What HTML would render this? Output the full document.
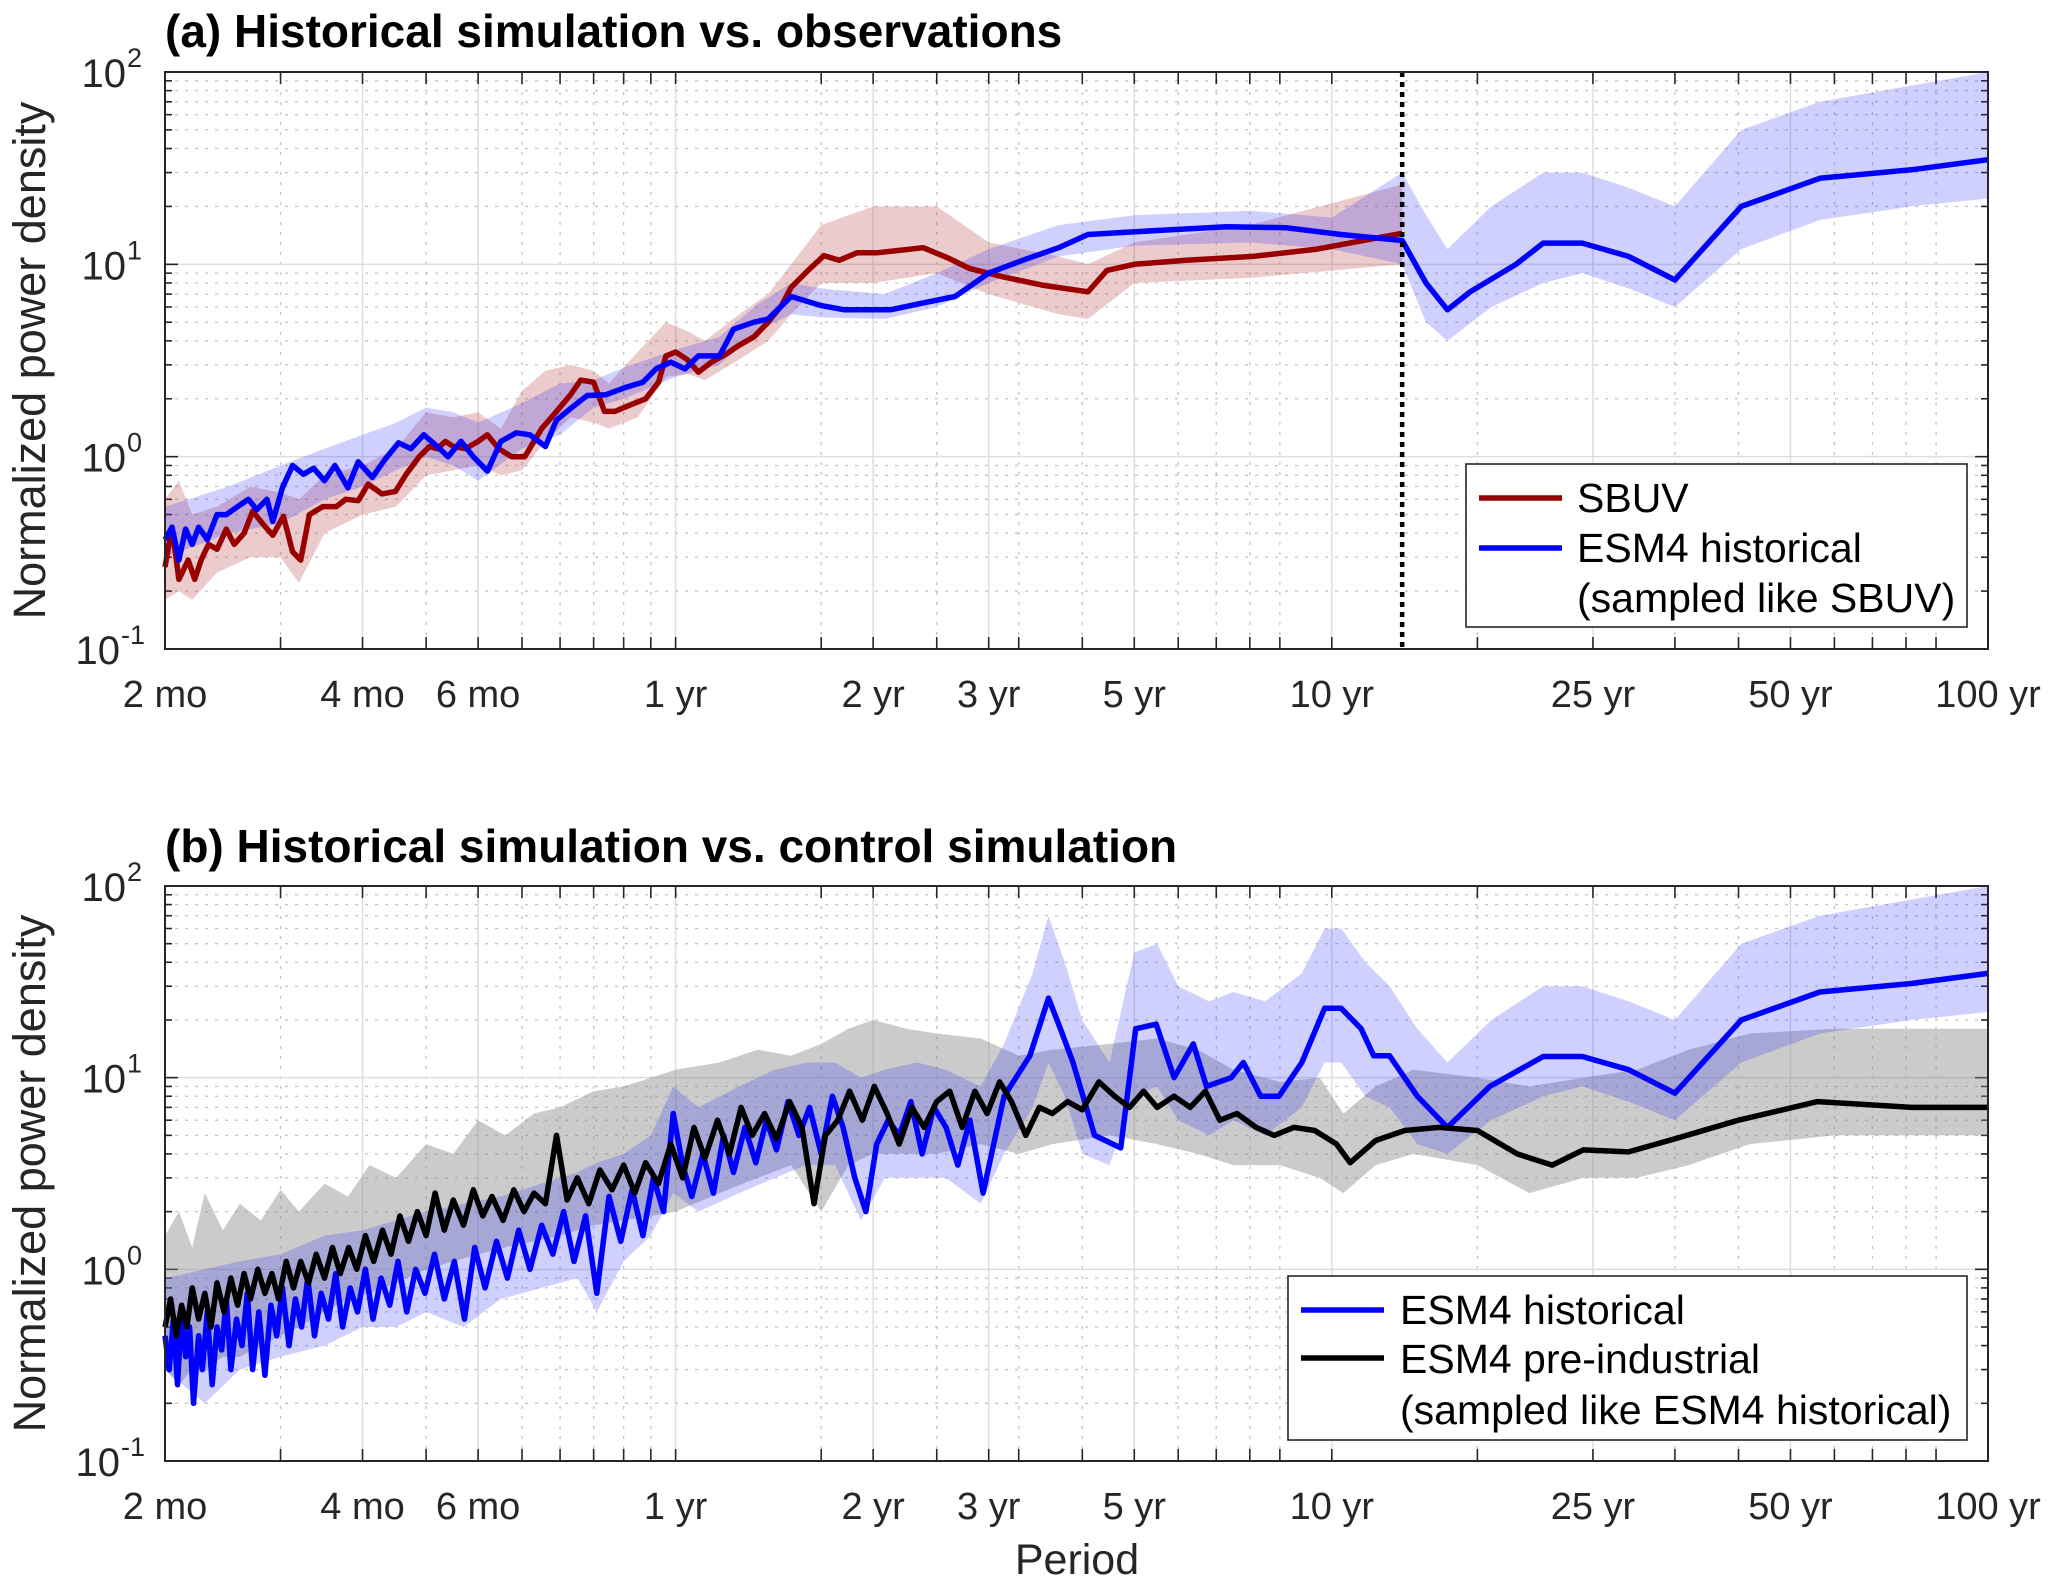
<!DOCTYPE html>
<html><head><meta charset="utf-8">
<style>
html,body{margin:0;padding:0;background:#fff;}
svg{display:block;font-family:"Liberation Sans",Arial,sans-serif;}
</style></head>
<body>
<svg id="chart" width="2067" height="1592" viewBox="0 0 2067 1592" xmlns="http://www.w3.org/2000/svg"></svg>
<script>
// ---------- Panel (a) data (periods in months) ----------
const sbuvMonths = [2,2.05,2.1,2.17,2.22,2.27,2.33,2.4,2.48,2.55,2.64,2.72,2.83,2.92,3.03,3.13,3.22,3.32,3.48,3.65,3.77,3.94,4.08,4.28,4.49,4.66,4.88,5.06,5.2,5.35,5.5,5.74,6.0,6.2,6.45,6.75,7.07,7.5,7.9,8.3,8.6,9.0,9.35,9.7,10.2,10.8,11.3,11.6,12.0,12.5,13.0,13.6,14.3,15.0,15.8,16.6,17.4,18,19.1,20.2,21.3,22.7,24.4,26.2,28.6,31.2,33.7,37.9,43.4,51,54.5,60,72,91,114,153.6];
const sbuvValues = [0.267,0.43,0.23,0.29,0.23,0.29,0.35,0.33,0.42,0.35,0.4,0.52,0.44,0.39,0.49,0.32,0.29,0.5,0.55,0.55,0.6,0.59,0.72,0.64,0.66,0.81,1.0,1.13,1.1,1.2,1.13,1.1,1.2,1.3,1.1,1.0,1.0,1.4,1.72,2.1,2.5,2.44,1.72,1.72,1.85,2.0,2.44,3.34,3.5,3.2,2.75,3.1,3.4,3.8,4.2,5.0,6.1,7.6,9.3,11.1,10.5,11.5,11.5,11.8,12.2,10.8,9.5,8.6,7.8,7.2,9.3,10.0,10.5,11.0,12.0,14.5];
const sbuvBandMonths = [2,2.1,2.2,2.4,2.7,3.0,3.2,3.5,4,4.5,5,5.5,6,6.5,7,7.6,8.3,9,9.5,10.5,11.6,12.5,13.3,15,16.6,18,20,24,30,36,46,51,60,90,153.6];
const sbuvBandLo = [0.18,0.2,0.18,0.25,0.3,0.3,0.22,0.4,0.5,0.55,0.8,0.85,0.9,0.8,0.85,1.2,1.6,1.5,1.4,1.6,2.6,2.7,2.5,3.2,4,5.5,8,8,9,7,5.5,5.2,8,8.5,10];
const sbuvBandHi = [0.6,0.75,0.5,0.55,0.7,0.65,0.6,0.8,0.9,1.1,1.7,1.6,1.7,1.4,2.2,2.8,3.0,2.8,2.4,3.5,5.0,4.5,4.0,5.5,7,10,16,20,20,13,11,10,13,16,26];

const histAMonths = [2,2.05,2.1,2.15,2.2,2.25,2.32,2.4,2.48,2.58,2.68,2.76,2.86,2.92,3.02,3.13,3.25,3.37,3.5,3.63,3.8,3.94,4.14,4.33,4.54,4.74,4.96,5.2,5.4,5.65,5.9,6.2,6.5,6.86,7.2,7.6,7.9,8.3,8.8,9.4,10.1,10.7,11.2,11.8,12.4,13.0,14,14.7,15.8,16.6,18,20,21.7,25.5,28.6,32,36,41.2,46,51,65,83,102,124,153.6,167,180,195,229,252,289,340,400,505,665,917,1200];
const histAValues = [0.37,0.43,0.29,0.42,0.35,0.43,0.37,0.5,0.5,0.55,0.6,0.53,0.6,0.46,0.69,0.9,0.81,0.87,0.75,0.9,0.69,0.94,0.78,0.97,1.18,1.1,1.3,1.13,1.0,1.2,1.0,0.84,1.2,1.33,1.3,1.13,1.55,1.78,2.08,2.1,2.3,2.44,2.86,3.1,2.86,3.34,3.34,4.6,5.0,5.2,6.8,6.1,5.8,5.8,6.3,6.8,9.0,10.7,12.2,14.3,15,15.7,15.5,14.3,13.3,8.0,5.8,7.2,10,12.9,12.9,11.0,8.3,20,28,31,35];
const histABandMonths = [2,2.5,3,3.5,4,4.5,5,5.5,6,7,8,9,10,12,14,16,18,20,25,30,36,46,60,90,120,153.6,167,180,210,252,289,340,400,505,665,917,1200];
const histABandLo = [0.3,0.4,0.45,0.6,0.7,0.85,1.0,0.9,0.75,1.1,1.3,1.8,2.0,2.6,3.0,4.5,5.5,5.3,5.2,6,8,11,12.5,13,12,10,5,4,6,8,9,7.5,6,12,17,20,22];
const histABandHi = [0.55,0.7,0.9,1.1,1.3,1.5,1.8,1.7,1.5,1.9,2.4,2.5,2.9,3.6,4.2,6.2,8,7.5,7.0,9,12,16,18,19,17.5,30,18,12,20,30,30,25,20,50,70,85,100];
const sbuvRecordMonths = 153.6;

// ---------- Panel (b) data ----------
const histBMonths = [2,2.03,2.06,2.09,2.12,2.15,2.18,2.21,2.25,2.28,2.32,2.36,2.4,2.44,2.48,2.52,2.57,2.62,2.67,2.72,2.78,2.84,2.9,2.96,3.02,3.09,3.16,3.23,3.3,3.38,3.46,3.55,3.64,3.73,3.83,3.93,4.04,4.15,4.27,4.4,4.53,4.67,4.82,4.98,5.15,5.33,5.52,5.72,5.93,6.15,6.4,6.65,6.92,7.2,7.5,7.8,8.1,8.4,8.75,9.1,9.5,9.9,10.3,10.7,11.1,11.5,11.9,12.3,12.7,13.2,13.7,14.2,14.7,15.3,15.9,16.5,17.1,17.8,18.5,19.2,20.0,20.8,21.6,22.5,23.4,24.3,25.3,26.3,27.4,28.5,29.7,31,32.3,33.7,35.3,38,41.6,44.4,46.3,48.4,52.2,57.2,60.3,64.8,69,73.8,77.3,84.3,88,93.5,99.7,108,117,124,133,139,147,162,180,209,252,289,340,400,505,665,917,1200];
const histBValues = [0.45,0.3,0.55,0.25,0.6,0.35,0.5,0.2,0.45,0.3,0.6,0.25,0.5,0.38,0.7,0.3,0.55,0.4,0.75,0.3,0.6,0.28,0.65,0.45,0.8,0.4,0.7,0.5,0.9,0.45,0.75,0.55,0.95,0.5,0.8,0.6,1.0,0.55,0.9,0.65,1.1,0.6,1.0,0.75,1.2,0.7,1.1,0.55,1.3,0.8,1.4,0.9,1.6,1.0,1.7,1.2,2.0,1.1,1.9,0.75,2.4,1.4,2.6,1.5,3.0,2.0,6.5,3.5,2.4,4.0,2.5,5.0,3.2,5.5,3.6,6.0,4.2,7.5,5.0,7.0,4.0,8.0,5.5,3.0,2.0,4.5,6.0,5.0,7.5,4.0,7.0,5.5,3.5,6.0,2.5,8,13,26,18,12,5,4.3,18,19,10,15,9,10,12,8,8,12,23,23,18,13,13,8,5.5,9,12.9,12.9,11,8.3,20,28,31,35];
const piMonths = [2,2.04,2.08,2.12,2.16,2.2,2.25,2.3,2.35,2.4,2.46,2.52,2.58,2.64,2.7,2.77,2.84,2.91,2.98,3.06,3.14,3.22,3.31,3.4,3.5,3.6,3.7,3.81,3.92,4.04,4.16,4.29,4.42,4.56,4.7,4.85,5.0,5.16,5.33,5.5,5.7,5.9,6.1,6.3,6.55,6.8,7.05,7.3,7.6,7.9,8.2,8.5,8.85,9.2,9.6,10.0,10.4,10.8,11.3,11.8,12.3,12.8,13.3,13.9,14.5,15.1,15.7,16.4,17.1,17.9,18.7,19.5,20.3,21.2,22.1,23.1,24.1,25.2,26.3,27.5,28.7,30,31.4,32.8,34.3,35.8,37.4,39,41,43,45,47.5,50,53,56,59,62,65,69,73,77,81,86,92,98,105,113,122,128,140,155,175,200,230,260,290,340,400,500,660,920,1200];
const piValues = [0.5,0.7,0.45,0.65,0.5,0.8,0.55,0.75,0.5,0.85,0.6,0.9,0.65,0.95,0.7,1.0,0.75,0.95,0.7,1.1,0.8,1.1,0.85,1.2,0.9,1.3,0.95,1.3,1.0,1.5,1.1,1.6,1.2,1.9,1.4,2.0,1.5,2.5,1.6,2.3,1.7,2.6,1.9,2.4,1.8,2.6,2.0,2.5,2.2,5.0,2.3,3.0,2.2,3.3,2.6,3.5,2.5,3.6,2.8,4.5,3.0,5.5,3.8,6.0,4.0,7.0,5.0,6.5,4.8,7.5,5.5,2.2,5.0,6.0,8.5,6.0,9.0,6.5,4.5,7.0,5.5,7.5,8.5,5.5,8.5,6.5,9.5,7.5,5.0,7.0,6.5,7.5,6.8,9.5,8.0,7.0,8.5,7.0,8.0,7.0,8.5,6.0,6.5,5.5,5.0,5.5,5.3,4.5,3.6,4.7,5.3,5.5,5.3,4.0,3.5,4.2,4.1,4.8,6.0,7.5,7.0,7.0];
const piBandMonths = [2,2.1,2.2,2.3,2.45,2.6,2.8,3.0,3.2,3.5,3.8,4.1,4.5,5.0,5.5,6.0,6.6,7.3,8.0,9.0,10,11,12,14,16,18,20,22,24,27,30,35,40,45,55,65,75,85,100,115,125,140,160,200,240,290,350,420,520,700,1200];
const piBandLo = [0.3,0.25,0.3,0.3,0.35,0.35,0.4,0.45,0.5,0.6,0.7,0.75,0.85,1.0,1.1,1.2,1.3,1.4,1.5,1.7,1.8,1.9,2.0,2.5,3.0,3.5,2.0,3.5,4.0,4.0,4.0,4.5,4.0,4.5,5.0,4.5,4.0,3.5,3.5,3.0,2.5,3.5,4.0,3.5,2.5,3.0,3.0,3.5,4.5,5.0,5.0];
const piBandHi = [1.5,2.0,1.3,2.5,1.6,2.2,1.8,2.6,2.0,2.8,2.4,3.5,3.0,4.5,4.0,6.0,5.0,6.5,7.0,8.5,9.0,10,11,12,14,13,15,18,20,18,17,16,13,14,15,16,14,11,9.5,10,6.5,9,11,10,9,10,11,14,17,18,18];
const histBBandMonths = [2,2.3,2.6,3,3.5,4,4.5,5,5.7,6.5,7.5,8.5,9.1,10,11,11.9,13,15,17,19,21,23,25,28,31,35,38,42,44.4,47,50,55,60,65,70,78,85,95,108,117,124,135,147,162,180,210,252,289,340,400,505,665,917,1200];
const histBBandLo = [0.3,0.2,0.3,0.35,0.4,0.5,0.5,0.6,0.5,0.7,0.8,0.9,0.6,1.1,1.5,2.5,2.0,2.5,3.0,3.5,3.5,1.8,3.0,3.0,3.0,2.2,4,7,12,8,4,3.5,8,9,6,5,6,5,7,12,12,8,7,4.5,4,6,8,9,7.5,6,12,17,20,22];
const histBBandHi = [0.9,1.0,1.1,1.2,1.5,1.6,1.8,2.0,2.2,2.4,2.8,3.2,3.6,4.0,5.0,9,7,9,11,12,12,10,11,12,11,9,15,35,70,40,20,12,45,50,30,25,28,25,35,60,60,40,30,18,12,20,30,30,25,20,50,70,85,100];

// ---------- axis ticks / labels ----------
const xTickMonths = [2,3,4,5,6,7,8,9,10,11,12,20,24,30,36,40,50,60,70,80,90,100,120,200,300,400,500,600,700,800,900,1000,1200];
const xLabelMonths = [2,4,6,12,24,36,60,120,300,600,1200];
const xLabelText = ["2 mo","4 mo","6 mo","1 yr","2 yr","3 yr","5 yr","10 yr","25 yr","50 yr","100 yr"];
const yDecades = [-1,0,1,2];

const NS = "http://www.w3.org/2000/svg";
const svg = document.getElementById("chart");
const L = 165, R = 1988;
const LW = 5.5;
const panels = [{top:72, bot:649}, {top:886, bot:1461}];
function xs(m){ return L + (Math.log10(m) - Math.log10(2)) / Math.log10(600) * (R - L); }
function ysF(p){ return v => p.bot - (Math.log10(v) + 1) / 3 * (p.bot - p.top); }
function mk(tag, attrs, parent){
  const e = document.createElementNS(NS, tag);
  for (const k in attrs) e.setAttribute(k, attrs[k]);
  (parent || svg).appendChild(e);
  return e;
}
function linePath(ms, vs, ys){
  const n = Math.min(ms.length, vs.length);
  let d = "";
  for (let i = 0; i < n; i++) d += (i ? "L" : "M") + xs(ms[i]).toFixed(1) + "," + ys(vs[i]).toFixed(1);
  return d;
}
function bandPath(ms, lo, hi, ys){
  const n = Math.min(ms.length, lo.length, hi.length);
  let d = "";
  for (let i = 0; i < n; i++) d += (i ? "L" : "M") + xs(ms[i]).toFixed(1) + "," + ys(hi[i]).toFixed(1);
  for (let i = n - 1; i >= 0; i--) d += "L" + xs(ms[i]).toFixed(1) + "," + ys(lo[i]).toFixed(1);
  return d + "Z";
}

function drawAxes(p, idx){
  const ys = ysF(p);
  const g = mk("g", {});
  
  
  for (const m of xTickMonths){
    const major = xLabelMonths.includes(m);
    const gl = mk("line", {x1:xs(m), x2:xs(m), y1:p.top, y2:p.bot, stroke: major ? "#dedede" : "#c4c4c4", "stroke-width": major ? 1.5 : 1.3, "stroke-dasharray": major ? "" : "3 7"}, g);
    
    
  }
  for (const d of yDecades){
    for (let k = 1; k <= 9; k++){
      const v = k * Math.pow(10, d);
      if (d === 2 && k > 1) continue;
      const y = ys(v);
      const gl = mk("line", {x1:L, x2:R, y1:y, y2:y, stroke: k === 1 ? "#dedede" : "#c4c4c4", "stroke-width": k === 1 ? 1.5 : 1.3, "stroke-dasharray": k === 1 ? "" : "3 7"}, g);
      
      
      const tl = k === 1 ? 13 : 7;
      mk("line", {x1:L, x2:L + tl, y1:y, y2:y, stroke:"#262626", "stroke-width":1.6}, g);
      mk("line", {x1:R, x2:R - tl, y1:y, y2:y, stroke:"#262626", "stroke-width":1.6}, g);
    }
  }
  for (const m of xTickMonths){
    const x = xs(m);
    mk("line", {x1:x, x2:x, y1:p.bot, y2:p.bot - 12, stroke:"#262626", "stroke-width":1.6}, g);
    mk("line", {x1:x, x2:x, y1:p.top, y2:p.top + 12, stroke:"#262626", "stroke-width":1.6}, g);
  }
  return g;
}

function drawFrame(p, idx){
  const ys = ysF(p);
  const fr = mk("rect", {x:L, y:p.top, width:R - L, height:p.bot - p.top, fill:"none", stroke:"#262626", "stroke-width":2});
  
  
  for (let i = 0; i < xLabelMonths.length; i++){
    const t = mk("text", {x:xs(xLabelMonths[i]), y:p.bot + 58, "text-anchor":"middle", "font-size":38, fill:"#262626"});
    t.textContent = xLabelText[i];
    
    
  }
  for (const d of yDecades){
    const y = ys(Math.pow(10, d));
    const t = mk("text", {x:d < 0 ? 120 : 126, y:y + 15, "text-anchor":"end", "font-size":40, fill:"#262626"});
    t.textContent = "10";
    
    
    const s = mk("text", {x:d < 0 ? 121 : 127, y:y - 5, "text-anchor":"start", "font-size":27, fill:"#262626"});
    s.textContent = String(d);
    
    
  }
  const cy = (p.top + p.bot) / 2;
  const yl = mk("text", {x:0, y:0, transform:"translate(45," + cy + ") rotate(-90)", "text-anchor":"middle", "font-size":45, fill:"#262626"});
  yl.textContent = "Normalized power density";
  
  
}

// ---------- Panel (a) ----------
const pa = panels[0], ysa = ysF(pa);
drawAxes(pa, 0);
const bandSbuv = mk("path", {d:bandPath(sbuvBandMonths, sbuvBandLo, sbuvBandHi, ysa), fill:"#b03030", "fill-opacity":0.25, stroke:"none"});


const bandHa = mk("path", {d:bandPath(histABandMonths, histABandLo, histABandHi, ysa), fill:"#2a2aff", "fill-opacity":0.22, stroke:"none"});


const lineSbuv = mk("path", {d:linePath(sbuvMonths, sbuvValues, ysa), fill:"none", stroke:"#990000", "stroke-width":LW, "stroke-linejoin":"round"});


const lineHa = mk("path", {d:linePath(histAMonths, histAValues, ysa), fill:"none", stroke:"#0000ff", "stroke-width":LW, "stroke-linejoin":"round"});


const vx = xs(sbuvRecordMonths);
const vline = mk("line", {x1:vx, x2:vx, y1:pa.top, y2:pa.bot, stroke:"#000", "stroke-width":4.5, "stroke-dasharray":"5 5"});


drawFrame(pa, 0);
const ta = mk("text", {x:165, y:47, "font-size":46, "font-weight":"bold", fill:"#000"});
ta.textContent = "(a) Historical simulation vs. observations";



// legend a
const lga = mk("g", {});


mk("rect", {x:1466, y:464, width:501, height:163, fill:"#fff", stroke:"#262626", "stroke-width":1.6}, lga);
mk("line", {x1:1479, x2:1562, y1:498, y2:498, stroke:"#990000", "stroke-width":LW}, lga);
mk("line", {x1:1479, x2:1562, y1:548, y2:548, stroke:"#0000ff", "stroke-width":LW}, lga);
const la1 = mk("text", {x:1577, y:512, "font-size":41, fill:"#000"}, lga);
la1.textContent = "SBUV";


const la2 = mk("text", {x:1577, y:562, "font-size":41, fill:"#000"}, lga);
la2.textContent = "ESM4 historical";


const la3 = mk("text", {x:1577, y:612, "font-size":41, fill:"#000"}, lga);
la3.textContent = "(sampled like SBUV)";



// ---------- Panel (b) ----------
const pb = panels[1], ysb = ysF(pb);
drawAxes(pb, 1);
const bandPi = mk("path", {d:bandPath(piBandMonths, piBandLo, piBandHi, ysb), fill:"#8c8c8c", "fill-opacity":0.45, stroke:"none"});


const bandHb = mk("path", {d:bandPath(histBBandMonths, histBBandLo, histBBandHi, ysb), fill:"#2a2aff", "fill-opacity":0.22, stroke:"none"});


const lineHb = mk("path", {d:linePath(histBMonths, histBValues, ysb), fill:"none", stroke:"#0000ff", "stroke-width":LW, "stroke-linejoin":"round"});


const linePi = mk("path", {d:linePath(piMonths, piValues, ysb), fill:"none", stroke:"#000", "stroke-width":LW, "stroke-linejoin":"round"});


drawFrame(pb, 1);
const tb = mk("text", {x:165, y:862, "font-size":46, "font-weight":"bold", fill:"#000"});
tb.textContent = "(b) Historical simulation vs. control simulation";


const xt = mk("text", {x:1077, y:1574, "text-anchor":"middle", "font-size":43, fill:"#262626"});
xt.textContent = "Period";



// legend b
const lgb = mk("g", {});


mk("rect", {x:1288, y:1276, width:679, height:164, fill:"#fff", stroke:"#262626", "stroke-width":1.6}, lgb);
mk("line", {x1:1301, x2:1384, y1:1310, y2:1310, stroke:"#0000ff", "stroke-width":LW}, lgb);
mk("line", {x1:1301, x2:1384, y1:1358, y2:1358, stroke:"#000", "stroke-width":LW}, lgb);
const lb1 = mk("text", {x:1400, y:1324, "font-size":41, fill:"#000"}, lgb);
lb1.textContent = "ESM4 historical";


const lb2 = mk("text", {x:1400, y:1373, "font-size":41, fill:"#000"}, lgb);
lb2.textContent = "ESM4 pre-industrial";


const lb3 = mk("text", {x:1400, y:1424, "font-size":41, fill:"#000"}, lgb);
lb3.textContent = "(sampled like ESM4 historical)";


</script>
</body></html>
